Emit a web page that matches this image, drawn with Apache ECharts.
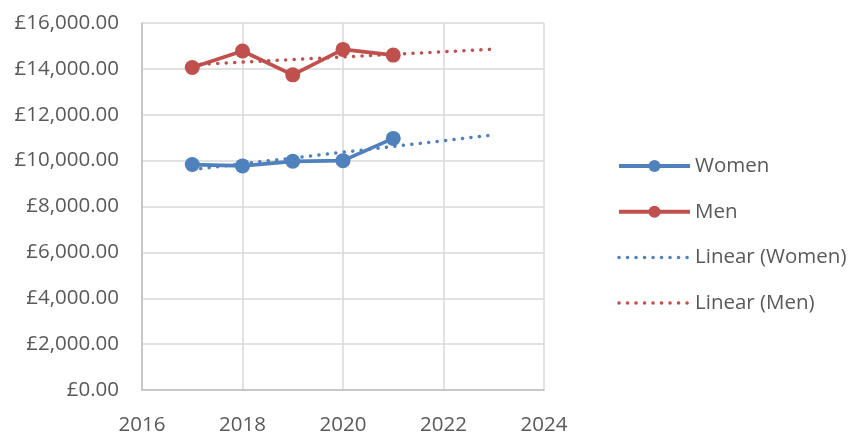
<!DOCTYPE html>
<html>
<head>
<meta charset="utf-8">
<script src="https://cdn.jsdelivr.net/npm/echarts@6/dist/echarts.min.js"></script>
<style>
html,body{margin:0;padding:0;background:#fff;}
#chart{width:849px;height:436px;}
</style>
</head>
<body>
<div id="chart"></div>
<script>
var years = [2017, 2018, 2019, 2020, 2021];
var women = [9830, 9770, 9970, 10000, 10970];
var men = [14060, 14780, 13740, 14850, 14600];
var trendYears = [2017, 2023];
var trendWomen = [9610, 11120];
var trendMen = [14180, 14860];
var xTicks = [2016, 2018, 2020, 2022, 2024];
var yTicks = [0, 2000, 4000, 6000, 8000, 10000, 12000, 14000, 16000];

function pairs(xs, ys) { return xs.map(function (x, i) { return [x, ys[i]]; }); }
function money(v) {
  var s = Math.round(v).toString().replace(/\B(?=(\d{3})+(?!\d))/g, ',');
  return '\u00a3' + s + '.00';
}

var FONT = 'Open Sans';
var TXT = '#595959';
var BLUE = '#4F81BD';
var RED = '#C0504D';
var dot = [0.1, 8.4];

var chart = echarts.init(document.getElementById('chart'), null, {renderer: 'canvas'});
chart.setOption({
  animation: false,
  backgroundColor: '#fff',
  textStyle: {fontFamily: FONT},
  grid: {left: 142, right: 305, top: 23, bottom: 40, containLabel: false},
  xAxis: {
    type: 'value', min: xTicks[0], max: xTicks[xTicks.length - 1], interval: 2,
    axisLine: {show: true, lineStyle: {color: '#BFBFBF', width: 1.5}},
    axisTick: {show: false},
    splitLine: {show: true, lineStyle: {color: '#D9D9D9', width: 1.5}},
    axisLabel: {color: TXT, fontSize: 20.5, fontFamily: FONT, margin: 25, formatter: function (v) { return String(v); }}
  },
  yAxis: {
    type: 'value', min: yTicks[0], max: yTicks[yTicks.length - 1], interval: 2000,
    axisLine: {show: true, lineStyle: {color: '#BFBFBF', width: 1.5}},
    axisTick: {show: false},
    splitLine: {show: true, lineStyle: {color: '#D9D9D9', width: 1.5}},
    axisLabel: {color: TXT, fontSize: 20.5, fontFamily: FONT, margin: 23, formatter: money}
  },
  legend: {
    orient: 'vertical', left: 612, top: 150,
    itemWidth: 71, itemHeight: 15, itemGap: 23.7,
    textStyle: {color: TXT, fontSize: 20.5, fontFamily: FONT, lineHeight: 22},
    data: [
      {name: 'Women', lineStyle: {width: 4}},
      {name: 'Men', lineStyle: {width: 4}},
      {name: 'Linear (Women)', itemStyle: {opacity: 0}, lineStyle: {width: 3.5}},
      {name: 'Linear (Men)', itemStyle: {opacity: 0}, lineStyle: {width: 3.5}}
    ]
  },
  series: [
    {name: 'Women', type: 'line', data: pairs(years, women), symbol: 'circle', symbolSize: 15,
      lineStyle: {color: BLUE, width: 3.75}, itemStyle: {color: BLUE}},
    {name: 'Men', type: 'line', data: pairs(years, men), symbol: 'circle', symbolSize: 15,
      lineStyle: {color: RED, width: 3.75}, itemStyle: {color: RED}},
    {name: 'Linear (Women)', type: 'line', data: pairs(trendYears, trendWomen), symbol: 'none',
      lineStyle: {color: BLUE, width: 3.5, type: dot, cap: 'round'}, itemStyle: {color: BLUE}},
    {name: 'Linear (Men)', type: 'line', data: pairs(trendYears, trendMen), symbol: 'none',
      lineStyle: {color: RED, width: 3.5, type: dot, cap: 'round'}, itemStyle: {color: RED}}
  ]
});
</script>
</body>
</html>
